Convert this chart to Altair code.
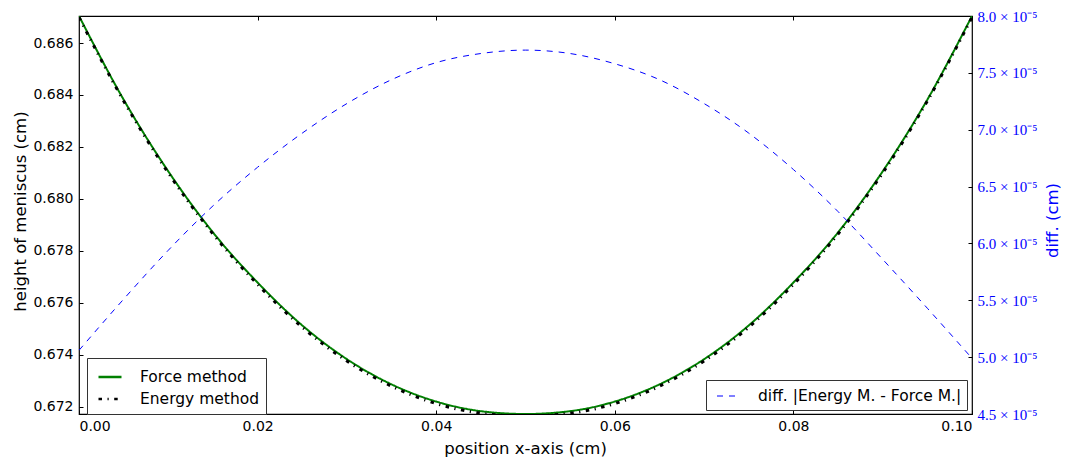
import altair as alt
import pandas as pd

# ---- data ----
x_pos = [0.000, 0.005, 0.010, 0.015, 0.020, 0.025, 0.030, 0.035, 0.040, 0.045, 0.050,
         0.055, 0.060, 0.065, 0.070, 0.075, 0.080, 0.085, 0.090, 0.095, 0.100]
force_h = [0.68704, 0.68382, 0.68106, 0.67871, 0.67678, 0.67513, 0.67383, 0.67286, 0.67220, 0.67183, 0.67172,
           0.67183, 0.67220, 0.67286, 0.67383, 0.67513, 0.67678, 0.67871, 0.68106, 0.68382, 0.68704]
energy_h = [0.68699, 0.68377, 0.68100, 0.67865, 0.67671, 0.67506, 0.67376, 0.67279, 0.67212, 0.67175, 0.67164,
            0.67175, 0.67212, 0.67279, 0.67376, 0.67506, 0.67671, 0.67865, 0.68100, 0.68377, 0.68699]
diff_cm = [5.06e-5, 5.51e-5, 5.94e-5, 6.33e-5, 6.67e-5, 6.97e-5, 7.23e-5, 7.44e-5, 7.59e-5, 7.67e-5, 7.70e-5,
           7.67e-5, 7.58e-5, 7.44e-5, 7.23e-5, 6.97e-5, 6.65e-5, 6.28e-5, 5.86e-5, 5.43e-5, 4.99e-5]

methods = ["Force method", "Energy method"]
diff_name = "diff. |Energy M. - Force M.|"

x_ticks = [0.0, 0.02, 0.04, 0.06, 0.08, 0.10]
left_ticks = [0.672, 0.674, 0.676, 0.678, 0.680, 0.682, 0.684, 0.686]
right_ticks = [4.5e-5, 5.0e-5, 5.5e-5, 6.0e-5, 6.5e-5, 7.0e-5, 7.5e-5, 8.0e-5]

left_domain = [0.67172, 0.68704]
right_domain = [4.5e-5, 8.0e-5]

df_force = pd.DataFrame({"x": x_pos, "h": force_h, "method": methods[0]})
df_energy = pd.DataFrame({"x": x_pos, "h": energy_h, "method": methods[1]})
df_diff = pd.DataFrame({"x": x_pos, "d": diff_cm, "series": diff_name})

FONT = "DejaVu Sans"
W, H = 893, 398

x_scale = alt.Scale(domain=[0, 0.1], nice=False, zero=False)

x_bottom = alt.X(
    "x:Q", scale=x_scale,
    axis=alt.Axis(orient="bottom", values=x_ticks, format=".2f", title="position x-axis (cm)",
                  labelFontSize=14, titleFontSize=16.5, titleFontWeight="normal",
                  offset=-4, tickSize=4, labelPadding=5,
                  titleX=446, titleY=38, titleBaseline="middle",
                  domain=False, grid=False, labelColor="black", titleColor="black",
                  tickColor="black"),
)
x_top = alt.X(
    "x:Q", scale=x_scale,
    axis=alt.Axis(orient="top", values=x_ticks, labels=False, title="",
                  offset=-4, tickSize=4, domain=False, grid=False, tickColor="black"),
)

y_left = alt.Y(
    "h:Q",
    scale=alt.Scale(domain=left_domain, nice=False, zero=False),
    axis=alt.Axis(orient="left", values=left_ticks, format=".3f",
                  title="height of meniscus (cm)", labelFontSize=14, titleFontSize=16.5,
                  titleFontWeight="normal", offset=-4, tickSize=4, labelPadding=6,
                  titleX=-63, titleY=195, titleBaseline="middle", titleAngle=270,
                  domain=False, grid=False, labelColor="black", titleColor="black",
                  tickColor="black"),
)

left_legend = alt.Legend(
    title=None, orient="none", legendX=8, legendY=342,
    fillColor="white", strokeColor="#333333", padding=6, cornerRadius=0,
    labelFontSize=15.5, labelFont=FONT, labelColor="black", labelOffset=17,
    symbolOffset=4, symbolType="stroke", symbolSize=529, symbolStrokeWidth=2.5, rowPadding=0,
)

color_left = alt.Color("method:N",
                       scale=alt.Scale(domain=methods, range=["#008000", "#000000"]),
                       legend=left_legend)
dash_left = alt.StrokeDash("method:N",
                           scale=alt.Scale(domain=methods, range=[[1, 0], [3.5, 5.5, 1.2, 5.5]]),
                           legend=left_legend)

force_line = alt.Chart(df_force).mark_line(strokeWidth=2, interpolate="monotone", clip=True).encode(
    x=x_bottom, y=y_left, color=color_left, strokeDash=dash_left)
energy_line = alt.Chart(df_energy).mark_line(strokeWidth=3, interpolate="monotone", clip=True,
                                             strokeCap="butt").encode(
    x=x_bottom, y=y_left, color=color_left, strokeDash=dash_left)

left = alt.layer(force_line, energy_line)

right_legend = alt.Legend(
    title=None, orient="none", legendX=627, legendY=364,
    fillColor="white", strokeColor="#333333", padding=5, cornerRadius=0,
    labelFontSize=15.5, labelFont=FONT, labelColor="black", labelOffset=20, labelLimit=400,
    symbolOffset=5, symbolType="stroke", symbolSize=400, symbolStrokeWidth=1.2,
)

diff_line = alt.Chart(df_diff).mark_line(strokeWidth=1, interpolate="monotone", clip=True).encode(
    x=x_top,
    y=alt.Y("d:Q",
            scale=alt.Scale(domain=right_domain, nice=False, zero=False),
            axis=alt.Axis(orient="right", values=right_ticks,
                          labelExpr="format(datum.value * 100000, '.1f') + ' × 10⁻⁵'",
                          title="diff. (cm)", titleAngle=270, labelFont="Liberation Serif",
                          labelFontSize=15, labelColor="#0000ff", titleColor="#0000ff",
                          titleFontSize=16.5, titleFontWeight="normal",
                          offset=-4, tickSize=4, labelPadding=5,
                          titleX=84, titleY=204, titleBaseline="middle",
                          domain=False, grid=False, tickColor="black")),
    color=alt.Color("series:N", scale=alt.Scale(domain=[diff_name], range=["#0000ff"]),
                    legend=right_legend),
    strokeDash=alt.StrokeDash("series:N", scale=alt.Scale(domain=[diff_name], range=[[6, 6]]),
                              legend=right_legend),
)

chart = alt.layer(left, diff_line).resolve_scale(
    y="independent", color="independent", strokeDash="independent"
).resolve_axis(
    x="independent", y="independent"
).properties(
    width=W, height=H,
    autosize=alt.AutoSizeParams(type="none"),
    padding={"left": 71, "top": 8, "right": 89, "bottom": 43},
).configure(
    font=FONT,
).configure_view(
    stroke="black", strokeWidth=1.2,
)

chart.save("out.html", embed_options={"renderer": "svg", "actions": False})
